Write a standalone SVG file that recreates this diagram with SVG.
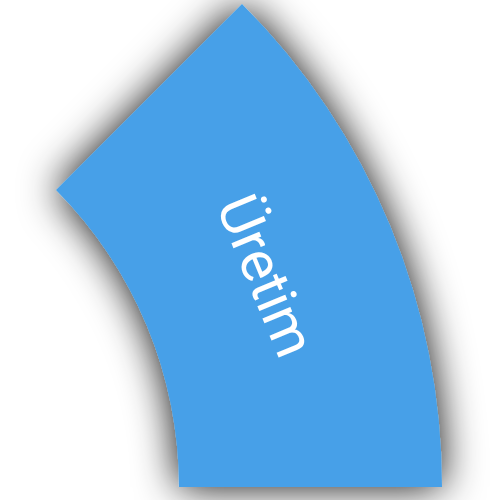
<svg xmlns="http://www.w3.org/2000/svg" width="500" height="500" viewBox="0 0 500 500">
  <defs>
    <filter id="shadow" x="-40%" y="-40%" width="180%" height="180%">
      <feDropShadow dx="0" dy="0" stdDeviation="20" flood-color="#000" flood-opacity="0.95"/>
    </filter>
  </defs>
  <style>
    .seg { fill: #47a0e8; }
    .lbl { fill: #ffffff; font-family: Roboto, "Liberation Sans", sans-serif; font-size: 57px; }
  </style>
  <rect width="500" height="500" fill="#ffffff"/>
  <g id="node-uretim">
    <path class="seg" filter="url(#shadow)" d="M 442 487 A 683 683 0 0 0 242 4 L 56 190 A 420 420 0 0 1 179 487 Z"/>
    <text class="lbl" x="266" y="276" text-anchor="middle" dominant-baseline="central" transform="rotate(67.5 266 276)">Üretim</text>
  </g>
  <g id="connectors"/>
</svg>
